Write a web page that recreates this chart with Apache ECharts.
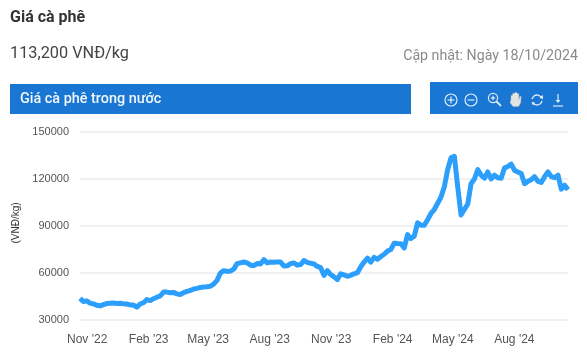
<!DOCTYPE html>
<html><head><meta charset="utf-8">
<style>html,body{margin:0;padding:0;background:#fff}#c{width:587px;height:362px}</style>
<script src="https://cdn.jsdelivr.net/npm/echarts@6/dist/echarts.min.js"></script>
</head><body><div id="c"></div>
<script>
const startDate = '2022-10-19';
const stepDays = 5;
const endDate = '2024-10-18';
const prices = [43800,41800,42200,40800,40300,39400,39000,39800,40500,40700,40900,40600,40700,40400,40200,39600,39500,38200,40200,41000,
43000,42400,43600,44500,45400,47800,47800,47400,47600,46700,46300,47500,48300,48800,49800,50200,50800,51000,51200,51500,
53000,55300,60000,61500,61000,61300,62500,66000,66500,67000,66500,65000,64800,66000,65800,68500,66500,67000,66800,67000,
67000,64500,64600,66000,66400,65000,65400,68000,66800,66200,65800,64200,63400,58500,61500,59000,57500,55800,59500,58800,
57900,58500,59500,60200,64000,67000,69500,67000,70000,68800,70500,72000,74000,75000,79000,78800,78700,76000,84500,82000,
83500,92000,90500,90500,94000,98000,100500,104500,108500,115000,126000,133500,134500,115000,97000,100500,104000,117000,120000,126000,
122500,120500,124500,120000,122500,120800,120500,127000,128000,129500,125500,124500,123500,117000,118500,119500,121500,118500,117800,121500,
124500,121500,120800,122500,113500,116000,113200];
const xTickDates = ['2022-11-01','2023-02-01','2023-05-01','2023-08-01','2023-11-01','2024-02-01','2024-05-01','2024-08-01'];
const monthNames = ['Jan','Feb','Mar','Apr','May','Jun','Jul','Aug','Sep','Oct','Nov','Dec'];
const yMin = 30000, yMax = 150000, yStep = 30000;
const titleText = 'Giá cà phê';
const priceText = '113,200 VNĐ/kg';
const updatedText = 'Cập nhật: Ngày 18/10/2024';
const panelText = 'Giá cà phê trong nước';
const yName = '(VNĐ/kg)';

const DAY = 86400000;
const t0 = Date.parse(startDate + 'T00:00:00Z');
const seriesData = prices.map((v, i) => [t0 + i * stepDays * DAY, v]);
const tickTimes = xTickDates.map(d => Date.parse(d + 'T00:00:00Z'));
const FONT = 'Roboto';
const AXISFONT = '"Liberation Sans"';
const W = '#ffffff';
const iconLine = {stroke: W, lineWidth: 1.2, fill: 'none', opacity: .85};
const txt = (x, y, text, size, color, weight, align) => ({type:'text', x, y, silent:true,
  style:{text, fontFamily:FONT, fontSize:size, fill:color, fontWeight:weight||'normal', align:align||'left', verticalAlign:'middle'}});
const circle = (cx, cy, r) => ({type:'circle', silent:true, shape:{cx, cy, r}, style:iconLine});
const seg = (x1, y1, x2, y2, w) => ({type:'line', silent:true, shape:{x1, y1, x2, y2}, style:Object.assign({}, iconLine, {lineWidth:w||1.2})});
const arc = (cx, cy, r, a, b) => ({type:'arc', silent:true, shape:{cx, cy, r, startAngle:a, endAngle:b, clockwise:true}, style:{stroke:W, lineWidth:1.3, fill:'none', opacity:.85}});

const chart = echarts.init(document.getElementById('c'), null, {renderer:'canvas'});
chart.setOption({
  animation:false,
  backgroundColor:'#fff',
  grid:{left:80, right:19, top:132, height:188, containLabel:false},
  xAxis:{type:'value', scale:true, min:t0, max:Date.parse(endDate + 'T00:00:00Z'),
    axisLine:{show:false}, axisTick:{show:false}, splitLine:{show:false},
    axisLabel:{customValues:tickTimes, color:'#555', fontFamily:AXISFONT, fontSize:12, margin:14, padding:[0,3,0,0], hideOverlap:false,
      showMinLabel:true, showMaxLabel:true,
      formatter:v => { const d = new Date(v); return monthNames[d.getUTCMonth()] + " '" + String(d.getUTCFullYear()).slice(2); }}},
  yAxis:{type:'value', min:yMin, max:yMax, interval:yStep,
    name:yName, nameLocation:'middle', nameGap:50, nameRotate:90,
    nameTextStyle:{color:'#333', fontFamily:AXISFONT, fontSize:10, padding:[0,0,0,6]},
    axisLine:{show:false}, axisTick:{show:false},
    splitLine:{lineStyle:{color:'#ececec', width:1.5}},
    axisLabel:{color:'#555', fontFamily:AXISFONT, fontSize:11, margin:11, formatter:v => String(v)}},
  series:[{type:'line', data:seriesData, showSymbol:false, symbol:'none', smooth:false,
    lineStyle:{color:'#2b9ffb', width:5, join:'round'}, silent:true}],
  graphic:{elements:[
    txt(10, 18, titleText, 16, '#333', 'bold'),
    txt(10, 54, priceText, 16.3, '#444'),
    txt(578, 56, updatedText, 14.2, '#8a8a8a', 'normal', 'right'),
    {type:'rect', silent:true, shape:{x:10, y:84, width:401, height:30}, style:{fill:'#1976d2'}},
    {type:'rect', silent:true, shape:{x:430, y:82, width:148, height:32}, style:{fill:'#1976d2'}},
    txt(20, 99, panelText, 14.4, '#f2f7fc', '500'),
    circle(451, 100, 6), seg(447.5, 100, 454.5, 100), seg(451, 96.5, 451, 103.5),
    circle(471, 100, 6), seg(467.5, 100, 474.5, 100),
    circle(493, 98, 4.6), seg(490.8, 98, 495.2, 98), seg(493, 95.8, 493, 100.2), seg(496.5, 101.5, 501, 106, 1.8),
    {type:'polygon', silent:true, shape:{points:[[511,100],[511,95.5],[512.5,95.5],[512.7,93.5],[514.3,93.5],[514.9,92.5],[516.5,92.5],[517.2,93.5],[518.8,93.5],[518.8,100],[519.7,96.5],[521.2,96.5],[520.6,103],[518.5,106.5],[513,106.5],[510,102.5]]},
      style:{fill:'#e4e4e4', stroke:'#b8b8b8', lineWidth:.4}},
    arc(537, 100, 5, Math.PI*1.05, Math.PI*1.8), arc(537, 100, 5, Math.PI*0.05, Math.PI*0.8),
    {type:'polygon', silent:true, shape:{points:[[539.5,97.5],[543,95],[543,99.5]]}, style:{fill:W, opacity:.85}},
    {type:'polygon', silent:true, shape:{points:[[535,102.5],[531.5,102],[533,105.5]]}, style:{fill:W, opacity:.85}},
    seg(558, 94, 558, 101.5), {type:'polygon', silent:true, shape:{points:[[555.5,100],[560.5,100],[558,103]]}, style:{fill:W, opacity:.85}},
    seg(553, 106, 563, 106)
  ]}
});
</script></body></html>
